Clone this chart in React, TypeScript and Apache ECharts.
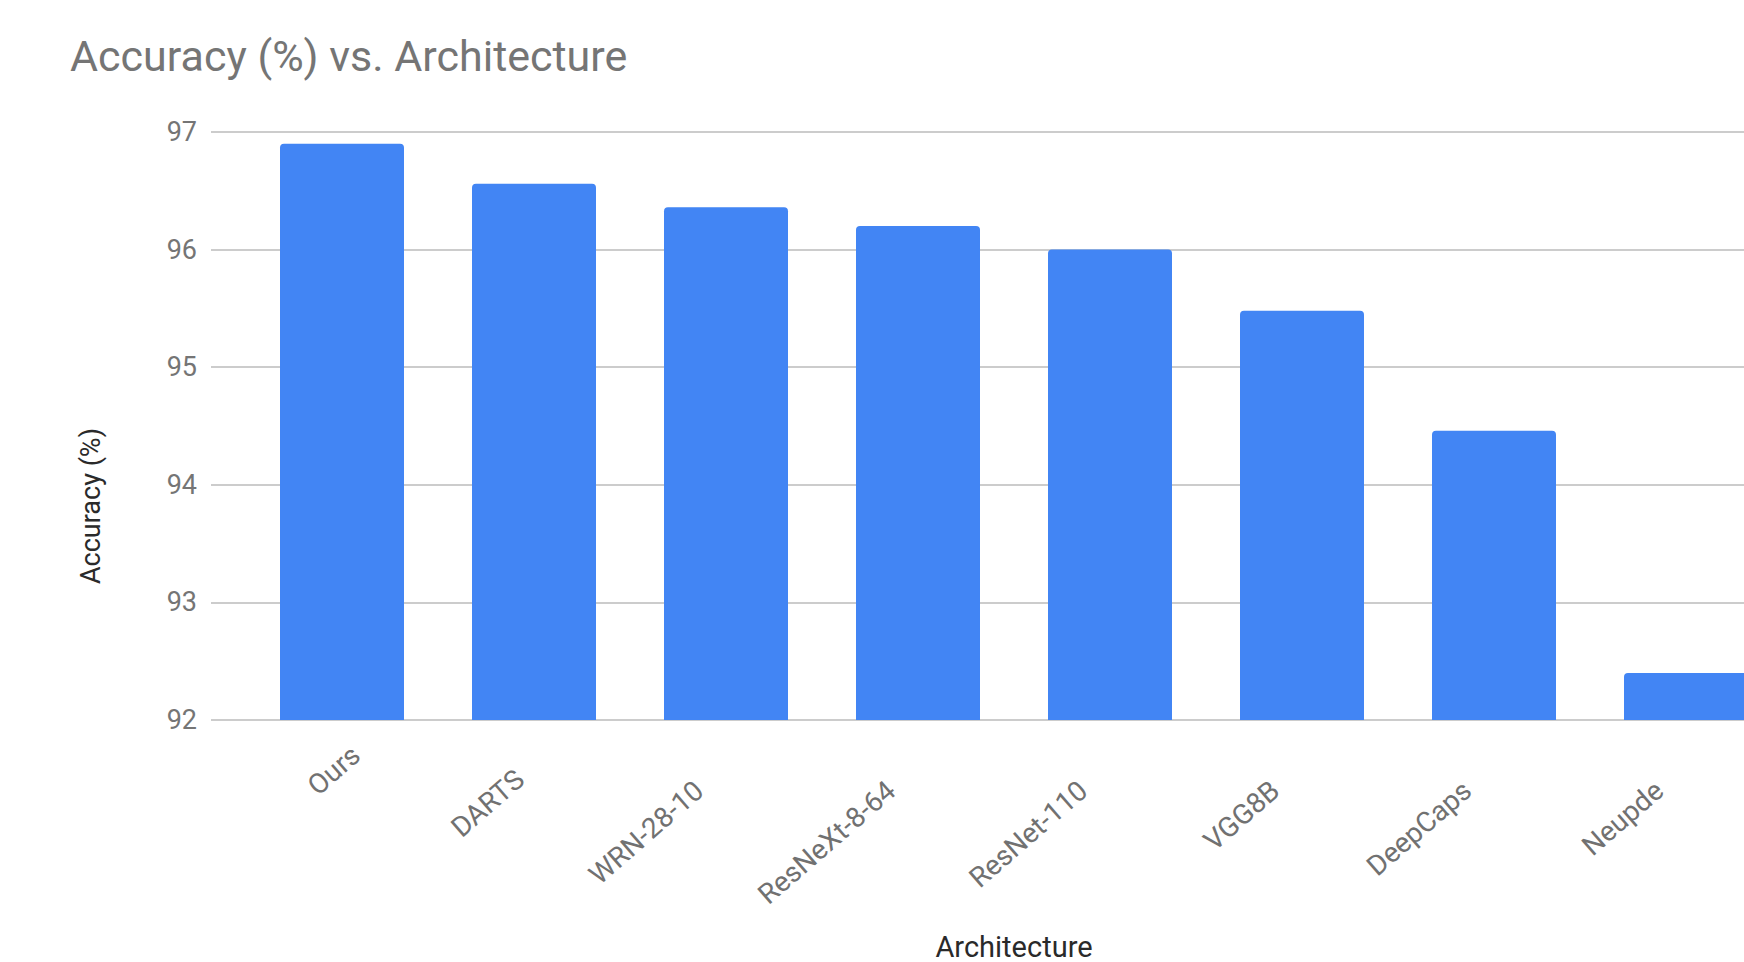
import React, { useEffect, useRef } from "react";
import * as echarts from "echarts";

const categories = ["Ours", "DARTS", "WRN-28-10", "ResNeXt-8-64", "ResNet-110", "VGG8B", "DeepCaps", "Neupde"];
const accuracy = [96.9, 96.56, 96.36, 96.2, 96.0, 95.48, 94.46, 92.4];
const yTicks = { min: 92, max: 97, step: 1 };
const titleText = "Accuracy (%) vs. Architecture";
const yName = "Accuracy (%)";
const xName = "Architecture";
// extra right padding per label (layout only)
const labelPad = [0, 37, 54, 54, 54, 54, 54, 54];

export default function App() {
  const ref = useRef<HTMLDivElement>(null);
  useEffect(() => {
    if (!ref.current) return;
    const chart = echarts.init(ref.current, null, { renderer: "svg" });
    const H = 962;
    const top = 132;
    const bottom = H - 720;
    const barLeft = 246;
    const bandW = 192;
    const font = "Roboto";
    const gridBase = { top, bottom, outerBoundsMode: "none", containLabel: false };
    chart.setOption({
      animation: false,
      backgroundColor: "#ffffff",
      title: {
        text: titleText,
        left: 70,
        top: 34,
        padding: 0,
        textStyle: { fontFamily: font, fontSize: 43, fontWeight: "normal", color: "#757575" },
      },
      graphic: [
        {
          type: "text",
          x: 91,
          y: 506,
          rotation: Math.PI / 2,
          style: {
            text: yName,
            fontFamily: font,
            fontSize: 27,
            fill: "#2a2a2a",
            align: "center",
            verticalAlign: "middle",
          },
        },
      ],
      grid: [
        { ...gridBase, left: 211, right: 0 },
        { ...gridBase, left: barLeft, width: bandW * categories.length },
        { ...gridBase, left: barLeft + 14, width: bandW * categories.length },
      ],
      xAxis: [
        { type: "value", gridIndex: 0, show: false, min: 0, max: 1 },
        {
          type: "category",
          gridIndex: 1,
          data: categories,
          axisLine: { show: false },
          axisTick: { show: false },
          axisLabel: { show: false },
          name: xName,
          nameLocation: "middle",
          nameGap: 212,
          nameTextStyle: { fontFamily: font, fontSize: 29, color: "#2a2a2a", verticalAlign: "top" },
        },
        {
          type: "category",
          gridIndex: 2,
          data: categories.map((c, i) => ({ value: c, textStyle: { padding: [0, labelPad[i], 0, 0] } })),
          axisLine: { show: false },
          axisTick: { show: false },
          axisLabel: {
            show: true,
            interval: 0,
            rotate: 41,
            margin: 31,
            fontFamily: font,
            fontSize: 28,
            color: "#717171",
          },
        },
      ],
      yAxis: [
        {
          type: "value",
          gridIndex: 0,
          min: yTicks.min,
          max: yTicks.max,
          interval: yTicks.step,
          axisLine: { show: false },
          axisTick: { show: false },
          axisLabel: { fontFamily: font, fontSize: 27, color: "#757575", margin: 14 },
          splitLine: { show: true, lineStyle: { color: "#cccccc", width: 2 } },
        },
        { type: "value", gridIndex: 1, min: yTicks.min, max: yTicks.max, show: false },
        { type: "value", gridIndex: 2, min: yTicks.min, max: yTicks.max, show: false },
      ],
      series: [
        {
          type: "bar",
          xAxisIndex: 1,
          yAxisIndex: 1,
          data: accuracy,
          barWidth: 124,
          itemStyle: { color: "#4285F4", borderRadius: [4, 4, 0, 0] },
        },
      ],
    });
    return () => chart.dispose();
  }, []);
  return <div ref={ref} style={{ position: "fixed", left: 0, top: 0, width: 1744, height: 962 }} />;
}
